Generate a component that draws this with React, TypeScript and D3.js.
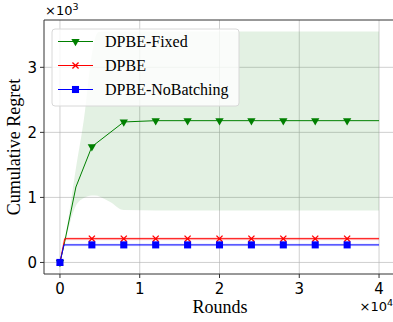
import React, { useRef, useEffect } from 'react'
import * as d3 from 'd3'

// rounds (x) and cumulative regret (y)
const fixedX = [0, 600, 2000, 4000, 8000, 12000, 16000, 20000, 24000, 28000, 32000, 36000, 40000]
const fixedY = [0, 320, 1160, 1780, 2160, 2180, 2180, 2180, 2180, 2180, 2180, 2180, 2180]

const fixedBandX = [0, 600, 2000, 3000, 4000, 4700, 5000, 6300, 8000, 12000, 20000, 30000, 40000]
const fixedLo = [0, 300, 870, 990, 1030, 1025, 1010, 930, 805, 800, 800, 800, 800]
const fixedHi = [0, 340, 1450, 2200, 3200, 3530, 3545, 3550, 3550, 3550, 3550, 3550, 3550]

const dpbeX = [0, 600, 4000, 8000, 12000, 16000, 20000, 24000, 28000, 32000, 36000, 40000]
const dpbeY = [0, 365, 365, 365, 365, 365, 365, 365, 365, 365, 365, 365]
const dpbeBand = [0, 22, 22, 22, 22, 22, 22, 22, 22, 22, 22, 22]

const noBatchX = [0, 500, 4000, 8000, 12000, 16000, 20000, 24000, 28000, 32000, 36000, 40000]
const noBatchY = [0, 270, 270, 270, 270, 270, 270, 270, 270, 270, 270, 270]
const noBatchBand = [0, 20, 20, 20, 20, 20, 20, 20, 20, 20, 20, 20]

const markerRounds = [0, 4000, 8000, 12000, 16000, 20000, 24000, 28000, 32000, 36000]

const xTicks = [0, 10000, 20000, 30000, 40000]
const yTicks = [0, 1000, 2000, 3000]
const legendNames = ['DPBE-Fixed', 'DPBE', 'DPBE-NoBatching']

const interp = (xs, ys, v) => {
  for (let i = 1; i < xs.length; i++) {
    if (v <= xs[i]) {
      const t = (v - xs[i - 1]) / (xs[i] - xs[i - 1])
      return ys[i - 1] + t * (ys[i] - ys[i - 1])
    }
  }
  return ys[ys.length - 1]
}

export default function App() {
  const ref = useRef(null)

  useEffect(() => {
    const svg = d3.select(ref.current)
    svg.selectAll('*').remove()

    const left = 44, right = 395, top = 20, bottom = 274
    const x = d3.scaleLinear().domain([-2000, 42000]).range([left, right])
    const y = d3.scaleLinear().domain([-177.5, 3727.5]).range([bottom, top])

    const plot = svg.append('g')

    // grid
    plot.selectAll('.gx').data(xTicks).join('line')
      .attr('x1', d => x(d)).attr('x2', d => x(d))
      .attr('y1', top).attr('y2', bottom)
      .attr('stroke', '#b0b0b0').attr('stroke-opacity', 0.6).attr('stroke-width', 1)
    plot.selectAll('.gy').data(yTicks).join('line')
      .attr('x1', left).attr('x2', right)
      .attr('y1', d => y(d)).attr('y2', d => y(d))
      .attr('stroke', '#b0b0b0').attr('stroke-opacity', 0.6).attr('stroke-width', 1)

    const series = [
      { xs: fixedX, ys: fixedY, bx: fixedBandX, lo: fixedLo, hi: fixedHi, color: 'green', fill: 'rgba(0,128,0,0.11)' },
      { xs: dpbeX, ys: dpbeY, bx: dpbeX, lo: dpbeY.map((v, i) => v - dpbeBand[i]), hi: dpbeY.map((v, i) => v + dpbeBand[i]), color: 'red', fill: 'rgba(255,0,0,0.15)' },
      { xs: noBatchX, ys: noBatchY, bx: noBatchX, lo: noBatchY.map((v, i) => v - noBatchBand[i]), hi: noBatchY.map((v, i) => v + noBatchBand[i]), color: 'blue', fill: 'rgba(0,0,255,0.1)' },
    ]

    series.forEach(s => {
      const area = d3.area()
        .x((d, i) => x(s.bx[i]))
        .y0((d, i) => y(s.lo[i]))
        .y1((d, i) => y(s.hi[i]))
        .curve(d3.curveMonotoneX)
      plot.append('path').datum(s.bx).attr('d', area).attr('fill', s.fill)
    })

    const sym = {
      green: d3.symbol().type(d3.symbolTriangle).size(30),
      red: d3.symbol().type(d3.symbolX).size(26),
      blue: d3.symbol().type(d3.symbolSquare).size(50),
    }

    const drawMarker = (g, color, cx, cy) => {
      const p = g.append('path')
        .attr('d', sym[color]())
      if (color === 'green') {
        p.attr('transform', `translate(${cx},${cy}) rotate(180)`).attr('fill', color)
      } else if (color === 'red') {
        p.attr('transform', `translate(${cx},${cy})`).attr('fill', 'none').attr('stroke', color).attr('stroke-width', 1.3)
      } else {
        p.attr('transform', `translate(${cx},${cy})`).attr('fill', color)
      }
    }

    series.forEach(s => {
      const line = d3.line()
        .x((d, i) => x(s.xs[i]))
        .y((d, i) => y(s.ys[i]))
      plot.append('path').datum(s.xs).attr('d', line)
        .attr('fill', 'none').attr('stroke', s.color).attr('stroke-width', 1)
      markerRounds.forEach(r => drawMarker(plot, s.color, x(r), y(interp(s.xs, s.ys, r))))
    })

    // spines
    plot.append('line').attr('x1', left).attr('x2', left).attr('y1', top).attr('y2', bottom)
      .attr('stroke', '#333').attr('stroke-width', 1)
    plot.append('line').attr('x1', left).attr('x2', right).attr('y1', bottom).attr('y2', bottom)
      .attr('stroke', '#333').attr('stroke-width', 1)
    plot.append('line').attr('x1', left).attr('x2', right).attr('y1', top).attr('y2', top)
      .attr('stroke', '#333').attr('stroke-width', 1)

    // ticks
    const tickFont = 'DejaVu Sans'
    plot.selectAll('.tx').data(xTicks).join('line')
      .attr('x1', d => x(d)).attr('x2', d => x(d)).attr('y1', bottom).attr('y2', bottom + 4)
      .attr('stroke', '#333')
    plot.selectAll('.txl').data(xTicks).join('text')
      .attr('x', d => x(d)).attr('y', bottom + 20)
      .attr('text-anchor', 'middle').attr('font-family', tickFont).attr('font-size', 15)
      .text(d => d / 10000)
    plot.selectAll('.ty').data(yTicks).join('line')
      .attr('x1', left - 4).attr('x2', left).attr('y1', d => y(d)).attr('y2', d => y(d))
      .attr('stroke', '#333')
    plot.selectAll('.tyl').data(yTicks).join('text')
      .attr('x', left - 7).attr('y', d => y(d) + 5.5)
      .attr('text-anchor', 'end').attr('font-family', tickFont).attr('font-size', 15)
      .text(d => d / 1000)

    // offset texts
    const off3 = plot.append('text').attr('x', 45).attr('y', 15)
      .attr('font-family', tickFont).attr('font-size', 13)
    off3.append('tspan').text('×10')
    off3.append('tspan').attr('dy', -5).attr('font-size', 9.5).text('3')
    const off4 = plot.append('text').attr('x', 393).attr('y', 311)
      .attr('text-anchor', 'end').attr('font-family', tickFont).attr('font-size', 13)
    off4.append('tspan').text('×10')
    off4.append('tspan').attr('dy', -5).attr('font-size', 9.5).text('4')

    // axis labels
    plot.append('text').attr('x', 220).attr('y', 313)
      .attr('text-anchor', 'middle').attr('font-family', 'Liberation Serif').attr('font-size', 18)
      .text('Rounds')
    plot.append('text').attr('transform', `translate(20,${(top + bottom) / 2}) rotate(-90)`)
      .attr('text-anchor', 'middle').attr('font-family', 'Liberation Serif').attr('font-size', 18)
      .text('Cumulative Regret')

    // legend
    const lg = plot.append('g')
    lg.append('rect').attr('x', 52).attr('y', 29).attr('width', 187).attr('height', 77)
      .attr('rx', 3).attr('fill', 'rgba(255,255,255,0.8)').attr('stroke', '#d8d8d8').attr('stroke-width', 1)
    legendNames.forEach((name, i) => {
      const ly = 41.5 + i * 24
      const color = series[i].color
      lg.append('line').attr('x1', 58).attr('x2', 93).attr('y1', ly).attr('y2', ly)
        .attr('stroke', color).attr('stroke-width', 1)
      drawMarker(lg, color, 75.5, ly)
      lg.append('text').attr('x', 105).attr('y', ly + 5.5)
        .attr('font-family', 'Liberation Serif').attr('font-size', 16).text(name)
    })
  }, [])

  return (
    <svg
      ref={ref}
      width={393}
      height={322}
      style={{ position: 'absolute', left: 0, top: 0, background: 'white' }}
    />
  )
}
